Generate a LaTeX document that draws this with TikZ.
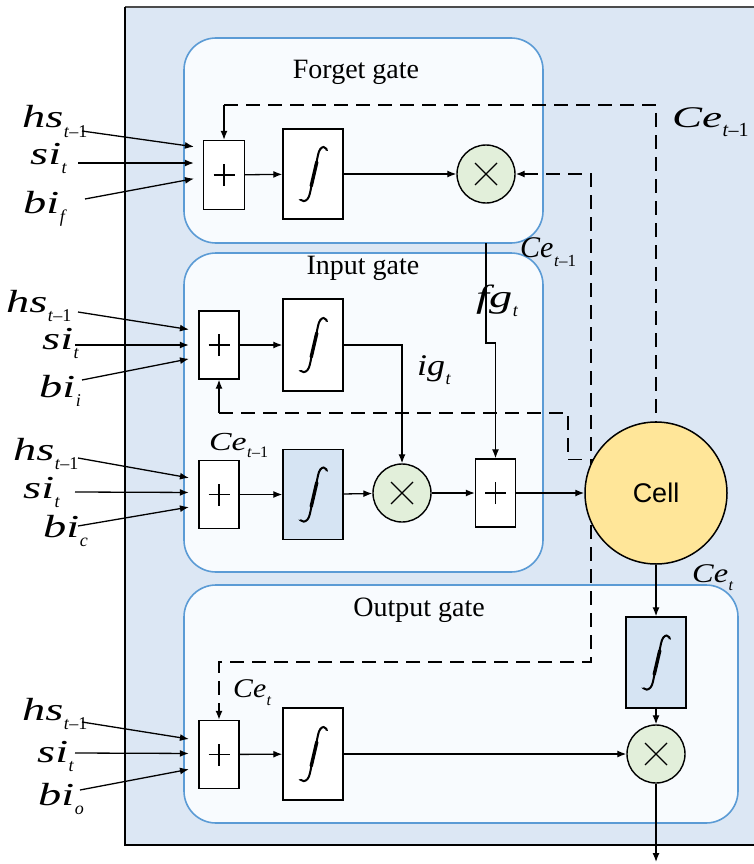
\documentclass[tikz,border=0pt]{standalone}
\usepackage{fontspec}
\setmainfont{Liberation Serif}
\newfontfamily\cellfont{Liberation Sans}
\usetikzlibrary{arrows.meta}
\definecolor{bgblue}{HTML}{DCE7F4}
\definecolor{gateline}{HTML}{5B9BD5}
\definecolor{gatefill}{HTML}{F8FBFE}
\definecolor{mulfill}{HTML}{E2EFDA}
\definecolor{cellfill}{HTML}{FFE699}
\definecolor{boxblue}{HTML}{D6E4F3}
% #1 x-scale, #2 main size, #3 main letters, #4 subscript, #5 subscript size
\newcommand\ml[5]{{\fontsize{#2}{#2}\selectfont\scalebox{#1}[1]{\itshape #3}\kern0.5pt\raisebox{-0.3em}{\fontsize{#5}{#5}\selectfont #4}}}
\newcommand\lab[2]{\ml{1.45}{32}{#1}{#2}{18}}
\begin{document}
\begin{tikzpicture}[x=1pt,y=-1pt,
  conn/.style={line width=1.3pt, -{Latex[length=9pt,width=7pt]}},
  dline/.style={line width=1.4pt, dash pattern=on 14pt off 8pt},
  gatebox/.style={draw=gateline, line width=1.6pt, fill=gatefill, rounded corners=32pt, inner sep=0pt, outer sep=0pt},
  plusbox/.style={draw, line width=1.4pt, fill=white, inner sep=0pt, minimum width=40pt, minimum height=68pt,
    path picture={\draw[line width=1.2pt]
      ([xshift=-10.5pt]path picture bounding box.center) -- ([xshift=10.5pt]path picture bounding box.center)
      ([yshift=-11pt]path picture bounding box.center) -- ([yshift=11pt]path picture bounding box.center);}},
  intbox/.style={draw, line width=1.4pt, fill=white, inner sep=0pt, minimum width=60pt, minimum height=90pt,
    path picture={\begin{scope}[shift={(path picture bounding box.center)}]
      \draw[line width=2pt, line cap=round] (14,-20) .. controls (15,-29) and (7,-30) .. (5,-19)
        -- (-3,19) .. controls (-5,30) and (-14,29) .. (-14.5,21);
      \draw[line width=3.4pt, line cap=round] (3.8,-12) -- (-1.8,12);
      \fill (13.5,-20) circle (3.3);
      \fill (-13.5,22) circle (3.3);
    \end{scope}}},
  intblue/.style={intbox, fill=boxblue},
  mulnode/.style={circle, draw, line width=1.4pt, fill=mulfill, minimum size=58pt, inner sep=0pt,
    path picture={\draw[line width=1.3pt]
      ([shift={(-11pt,-11pt)}]path picture bounding box.center) -- ([shift={(11pt,11pt)}]path picture bounding box.center)
      ([shift={(-11pt,11pt)}]path picture bounding box.center) -- ([shift={(11pt,-11pt)}]path picture bounding box.center);}},
  title/.style={font=\fontsize{28}{28}\selectfont, inner sep=0pt},
  lbl/.style={anchor=base west, inner sep=0pt},
]
\useasboundingbox (0,0) rectangle (754,864);
% outer frame
\fill[bgblue] (125,8) rectangle (754,845);
\draw[line width=2pt, black!70] (125,7) -- (754,7);
\draw[line width=1.6pt] (125,7) -- (125,845) -- (754,845);

% gate boxes
\node[gatebox, minimum width=359pt, minimum height=205pt] (fgate) at (363.5,140.5) {};
\node[gatebox, minimum width=359pt, minimum height=319pt] (igate) at (363.5,412.5) {};
\node[gatebox, minimum width=554pt, minimum height=238pt] (ogate) at (461,704) {};

\node[title] (ftitle) at (356,72) {Forget gate};
\node[title] (ititle) at (363,268) {Input gate};
\node[title] (otitle) at (419,610) {Output gate};

% forget gate
\node[plusbox, minimum width=41pt, minimum height=69pt] (fplus) at (224,175) {};
\node[intbox] (fint) at (313,174) {};
\node[mulnode] (fmul) at (486,174) {};
% input gate
\node[plusbox] (iplus) at (219,345) {};
\node[intbox, minimum height=92pt] (iint) at (313,345) {};
\node[plusbox] (cplus) at (219,494.5) {};
\node[intblue] (cint) at (313,494.5) {};
\node[mulnode] (imul) at (402,493) {};
\node[plusbox] (aplus) at (495.5,493) {};
% output gate
\node[plusbox] (oplus) at (219,754.5) {};
\node[intbox, minimum height=92pt] (oint) at (313,754) {};
\node[intblue, minimum height=91pt] (tint) at (656,662.5) {};
\node[mulnode] (omul) at (656,754) {};

% dashed feedback lines
\coordinate (dtop) at (224,105);
\coordinate (dd1) at (591,662);
\coordinate (dmid) at (219,413);
\coordinate (dmk) at (568,413);
\draw[dline] (dtop) -| (656,422);
\draw[dline, {Latex[length=9pt,width=7pt]}-{Latex[length=9pt,width=7pt]}]
  (fmul.east) -- (fmul.east -| dd1) -- (dd1) -| (oplus.north);
\draw[dline] (dmid) -- (dmk) |- (593,459.7);

% cell
\node[circle, draw, line width=1.5pt, fill=cellfill, minimum size=142pt, inner sep=0pt,
  font=\cellfont\fontsize{27}{27}\selectfont] (cell) at (656,493) {Cell};

\draw[conn] (dtop) -- (fplus.north);
\draw[conn] (dmid) -- (iplus.south);

% solid connectors
\draw[conn] (fplus) -- (fint);
\draw[conn] (fint) -- (fmul);
\draw[conn] (iplus) -- (iint);
\draw[conn] (iint.east) -| (imul.north);
\draw[conn] (cplus) -- (cint);
\draw[conn] (cint) -- (imul);
\draw[conn] (imul) -- (aplus);
\draw[conn] (aplus) -- (cell);
\draw[conn] (fgate.south -| fmul) -- ++(0,100) -| (aplus.north);
\draw[conn] (oplus) -- (oint);
\draw[conn] (oint) -- (omul);
\draw[conn] (cell) -- (tint);
\draw[conn] (tint) -- (omul);
\coordinate (outp) at (656,862);
\draw[conn] (omul) -- (outp);

% input labels and arrows
\node[lbl] (fhs) at (22,128) {\lab{hs}{\textit{t}–1}};
\node[lbl] (fsi) at (30,164) {\lab{si}{\textit{t}}};
\node[lbl] (fbi) at (23,213) {\lab{bi}{\textit{f}}};
\coordinate (fhs0) at (82,131); \coordinate (fsi0) at (78,163); \coordinate (fbi0) at (85,199);
\draw[conn, shorten >=9pt] (fhs0) -- ([yshift=27pt]fplus.west);
\draw[conn, shorten >=9pt] (fsi0) -- ([yshift=12pt]fplus.west);
\draw[conn, shorten >=9pt] (fbi0) -- ([yshift=-2pt]fplus.west);

\node[lbl] (ihs) at (6,312) {\lab{hs}{\textit{t}–1}};
\node[lbl] (isi) at (42,349) {\lab{si}{\textit{t}}};
\node[lbl] (ibi) at (39,397) {\lab{bi}{\textit{i}}};
\coordinate (ihs0) at (78,312); \coordinate (isi0) at (75,345); \coordinate (ibi0) at (82,380);
\draw[conn, shorten >=9.5pt] (ihs0) -- ([yshift=14pt]iplus.west);
\draw[conn, shorten >=9.5pt] (isi0) -- (iplus.west);
\draw[conn, shorten >=9.5pt] (ibi0) -- ([yshift=-12pt]iplus.west);

\node[lbl] (chs) at (13,460) {\lab{hs}{\textit{t}–1}};
\node[lbl] (csi) at (23,498) {\lab{si}{\textit{t}}};
\node[lbl] (cbi) at (43,537) {\lab{bi}{\textit{c}}};
\coordinate (chs0) at (78,458); \coordinate (csi0) at (75,492); \coordinate (cbi0) at (78,526);
\draw[conn, shorten >=9.5pt] (chs0) -- ([yshift=15pt]cplus.west);
\draw[conn, shorten >=9.5pt] (csi0) -- ([yshift=2pt]cplus.west);
\draw[conn, shorten >=9.5pt] (cbi0) -- ([yshift=-11pt]cplus.west);

\node[lbl] (ohs) at (22,720) {\lab{hs}{\textit{t}–1}};
\node[lbl] (osi) at (37,762) {\lab{si}{\textit{t}}};
\node[lbl] (obi) at (38,805) {\lab{bi}{\textit{o}}};
\coordinate (ohs0) at (82,722); \coordinate (osi0) at (75,753); \coordinate (obi0) at (80,790);
\draw[conn, shorten >=9.5pt] (ohs0) -- ([yshift=14pt]oplus.west);
\draw[conn, shorten >=9.5pt] (osi0) -- ([yshift=1pt]oplus.west);
\draw[conn, shorten >=9.5pt] (obi0) -- ([yshift=-13pt]oplus.west);

% signal labels
\node[lbl] (ce1) at (672,128) {\ml{1.5}{30}{Ce}{\textit{t}–1}{20}};
\node[lbl] (ce2) at (520,257) {\ml{1.0}{30}{Ce}{\textit{t}–1}{17}};
\node[lbl] (ce3) at (209,450) {\ml{1.3}{26}{Ce}{\textit{t}–1}{16}};
\node[lbl] (ce4) at (233,697) {\ml{1.1}{27}{Ce}{\textit{t}}{16}};
\node[lbl] (ce5) at (692,582) {\ml{1.2}{27}{Ce}{\textit{t}}{16}};
\node[lbl] (igl) at (417,375) {\ml{1.2}{30}{ig}{\textit{t}}{18}};
\node[lbl] (fgl) at (476,307) {\ml{1.45}{32}{fg}{\textit{t}}{18}};
\end{tikzpicture}
\end{document}
